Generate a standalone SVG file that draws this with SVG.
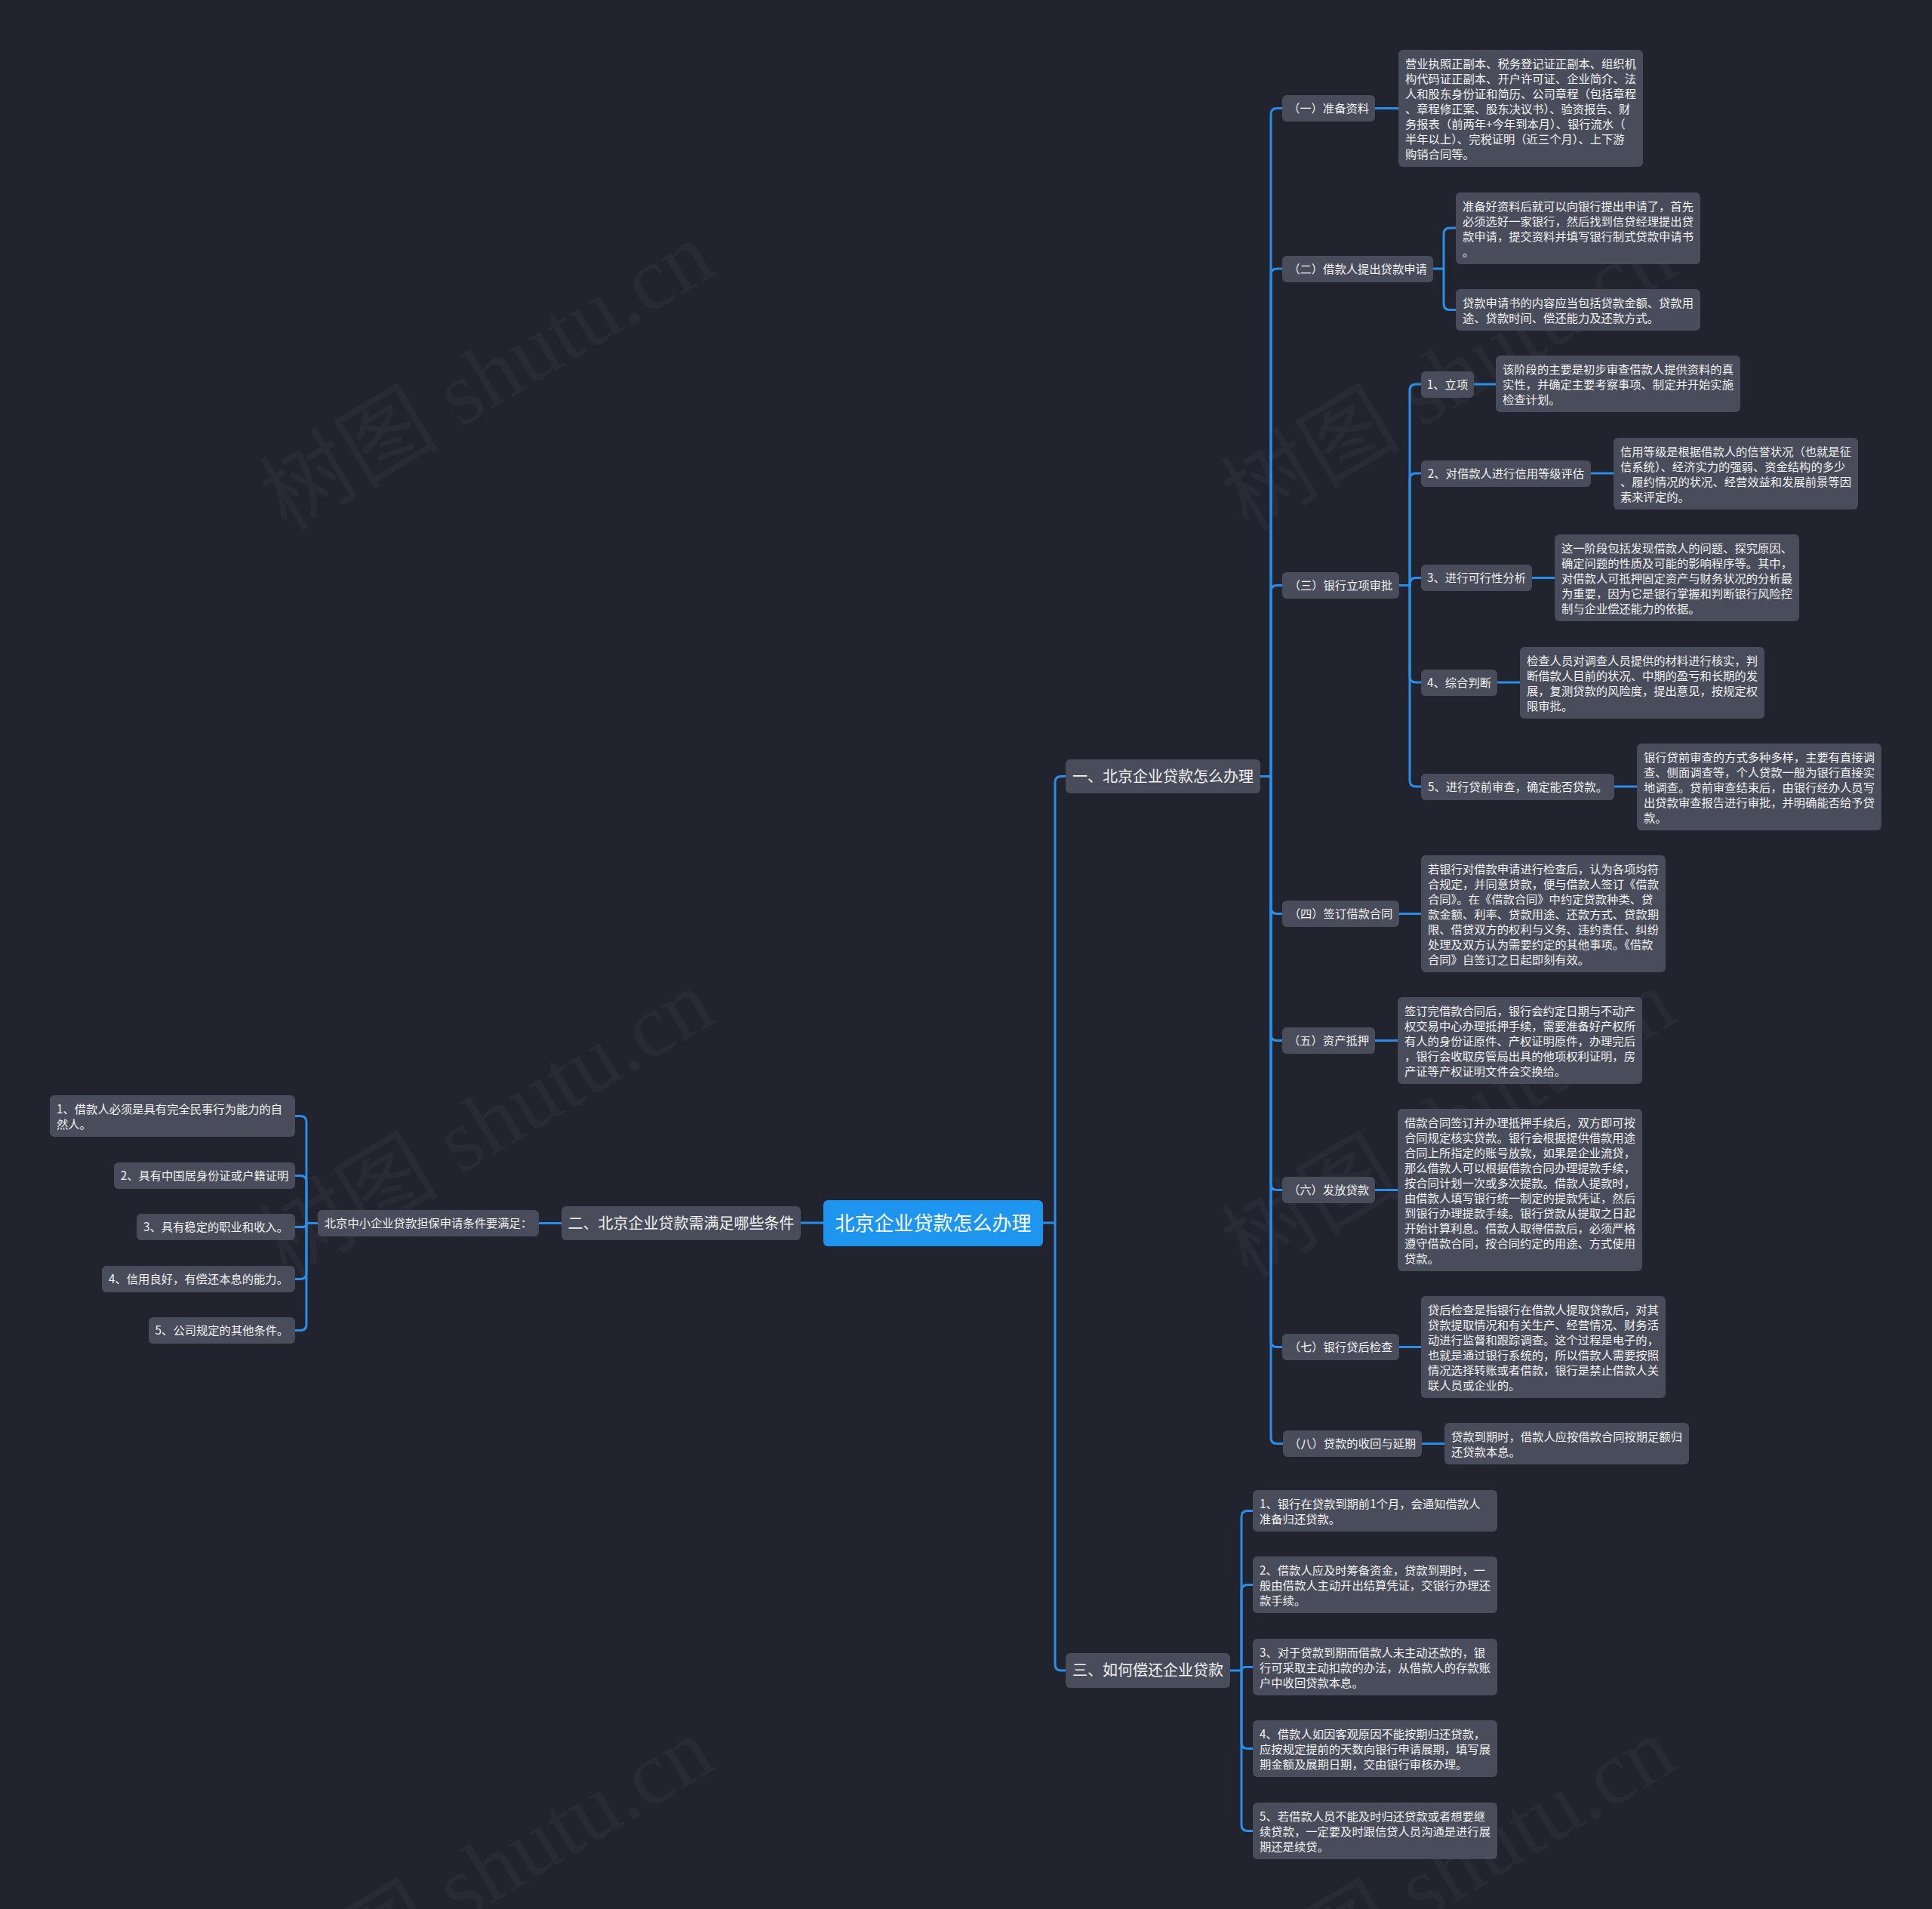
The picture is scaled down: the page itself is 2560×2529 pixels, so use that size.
<svg xmlns="http://www.w3.org/2000/svg" width="2560" height="2529" viewBox="0 0 2560 2529">
<style>
.bg{fill:#21242f}
.wm{font-family:"Liberation Serif","Noto Sans CJK SC",serif;font-size:119px;fill:#ffffff;fill-opacity:0.035}
.n{fill:#494d5b}
.root{fill:#1e96f0}
text{font-family:"Noto Sans CJK SC","Noto Sans",sans-serif;fill:#f2f2f2}
.t{font-size:15.3px}
.m{text-anchor:middle}
.s{font-size:20px;text-anchor:middle}
.r{font-size:26px;text-anchor:middle;fill:#ffffff}
.c{fill:none;stroke:#2a8ee8;stroke-width:3;stroke-linecap:round;stroke-linejoin:round}
</style>
<rect class="bg" x="0" y="0" width="2560" height="2529"/>
<g id="watermarks">
<text class="wm" x="380" y="705" transform="rotate(-31 380 705)">树图 shutu.cn</text>
<text class="wm" x="1654" y="705" transform="rotate(-31 1654 705)">树图 shutu.cn</text>
<text class="wm" x="380" y="1695" transform="rotate(-31 380 1695)">树图 shutu.cn</text>
<text class="wm" x="1654" y="1695" transform="rotate(-31 1654 1695)">树图 shutu.cn</text>
<text class="wm" x="380" y="2685" transform="rotate(-31 380 2685)">树图 shutu.cn</text>
<text class="wm" x="1654" y="2685" transform="rotate(-31 1654 2685)">树图 shutu.cn</text>
</g>
<g id="connectors">
<path class="c" d="M1382,1620 H1398 V1036.5 Q1398,1028.5 1406,1028.5 H1412"/>
<path class="c" d="M1398,1620 V2205 Q1398,2213 1406,2213 H1412"/>
<path class="c" d="M1091,1620 H1061"/>
<path class="c" d="M744,1620.5 H714"/>
<path class="c" d="M421,1620.5 H406 V1486.5 Q406,1478.5 398,1478.5 H391"/>
<path class="c" d="M406,1620.5 V1565.5 Q406,1557.5 398,1557.5 H391"/>
<path class="c" d="M406,1620.5 Q406,1625.5 401,1625.5 H391"/>
<path class="c" d="M406,1620.5 V1686.5 Q406,1694.5 398,1694.5 H391"/>
<path class="c" d="M406,1620.5 V1754.5 Q406,1762.5 398,1762.5 H391"/>
<path class="c" d="M1670,1028.5 H1684 V151.5 Q1684,143.5 1692,143.5 H1699"/>
<path class="c" d="M1684,1028.5 V364 Q1684,356 1692,356 H1699"/>
<path class="c" d="M1684,1028.5 V783.5 Q1684,775.5 1692,775.5 H1699"/>
<path class="c" d="M1684,1028.5 V1202.5 Q1684,1210.5 1692,1210.5 H1699"/>
<path class="c" d="M1684,1028.5 V1370.5 Q1684,1378.5 1692,1378.5 H1699"/>
<path class="c" d="M1684,1028.5 V1568.5 Q1684,1576.5 1692,1576.5 H1699"/>
<path class="c" d="M1684,1028.5 V1776.5 Q1684,1784.5 1692,1784.5 H1699"/>
<path class="c" d="M1684,1028.5 V1904.5 Q1684,1912.5 1692,1912.5 H1700"/>
<path class="c" d="M1822,143.5 H1853"/>
<path class="c" d="M1899,356 H1913 V310 Q1913,302 1921,302 H1929"/>
<path class="c" d="M1913,356 V402.5 Q1913,410.5 1921,410.5 H1929"/>
<path class="c" d="M1854,775.5 H1868 V517 Q1868,509 1876,509 H1883"/>
<path class="c" d="M1868,775.5 V635 Q1868,627 1876,627 H1883"/>
<path class="c" d="M1868,775.5 Q1868,765.5 1876,765.5 H1883"/>
<path class="c" d="M1868,775.5 V896 Q1868,904 1876,904 H1883"/>
<path class="c" d="M1868,775.5 V1034 Q1868,1042 1876,1042 H1883"/>
<path class="c" d="M1953,509 H1982"/>
<path class="c" d="M2108,627 H2138"/>
<path class="c" d="M2030,765.5 H2060"/>
<path class="c" d="M1984,904 H2014"/>
<path class="c" d="M2139,1042 H2169"/>
<path class="c" d="M1854,1210.5 H1883"/>
<path class="c" d="M1822,1378.5 H1852"/>
<path class="c" d="M1822,1576.5 H1852"/>
<path class="c" d="M1854,1784.5 H1883"/>
<path class="c" d="M1884,1912.5 H1914"/>
<path class="c" d="M1630,2213 H1645 V2009.5 Q1645,2001.5 1653,2001.5 H1660"/>
<path class="c" d="M1645,2213 V2107.5 Q1645,2099.5 1653,2099.5 H1660"/>
<path class="c" d="M1645,2213 Q1645,2208.5 1650,2208.5 H1660"/>
<path class="c" d="M1645,2213 V2308.5 Q1645,2316.5 1653,2316.5 H1660"/>
<path class="c" d="M1645,2213 V2417.5 Q1645,2425.5 1653,2425.5 H1660"/>
</g>
<g id="root"><rect class="root" x="1091" y="1590" width="291" height="61" rx="6"/><text class="r" x="1236.5" y="1629.5">北京企业贷款怎么办理</text></g>
<g id="sec1"><rect class="n" x="1412" y="1006" width="258" height="45" rx="6"/><text class="s" x="1541" y="1035.5">一、北京企业贷款怎么办理</text></g>
<g id="sec2"><rect class="n" x="744" y="1598" width="317" height="45" rx="6"/><text class="s" x="902.5" y="1627.5">二、北京企业贷款需满足哪些条件</text></g>
<g id="sec3"><rect class="n" x="1412" y="2190" width="218" height="46" rx="6"/><text class="s" x="1521" y="2220">三、如何偿还企业贷款</text></g>
<g id="cond"><rect class="n" x="421" y="1603" width="293" height="35" rx="6"/><text class="t m" x="567.5" y="1626">北京中小企业贷款担保申请条件要满足：</text></g>
<g id="cond1"><rect class="n" x="66" y="1451" width="325" height="55" rx="6"/><text class="t"><tspan x="75" y="1474.5">1、借款人必须是具有完全民事行为能力的自</tspan><tspan x="75" y="1494.5">然人。</tspan></text></g>
<g id="cond2"><rect class="n" x="151" y="1540" width="240" height="35" rx="6"/><text class="t m" x="271" y="1563">2、具有中国居身份证或户籍证明</text></g>
<g id="cond3"><rect class="n" x="181" y="1608" width="210" height="35" rx="6"/><text class="t m" x="286" y="1631">3、具有稳定的职业和收入。</text></g>
<g id="cond4"><rect class="n" x="135" y="1677" width="256" height="35" rx="6"/><text class="t m" x="263" y="1700">4、信用良好，有偿还本息的能力。</text></g>
<g id="cond5"><rect class="n" x="197" y="1745" width="194" height="35" rx="6"/><text class="t m" x="294" y="1768">5、公司规定的其他条件。</text></g>
<g id="p1"><rect class="n" x="1699" y="126" width="123" height="35" rx="6"/><text class="t m" x="1760.5" y="149">（一）准备资料</text></g>
<g id="p1t"><rect class="n" x="1853" y="66" width="324" height="155" rx="6"/><text class="t"><tspan x="1862" y="89.5">营业执照正副本、税务登记证正副本、组织机</tspan><tspan x="1862" y="109.5">构代码证正副本、开户许可证、企业简介、法</tspan><tspan x="1862" y="129.5">人和股东身份证和简历、公司章程（包括章程</tspan><tspan x="1862" y="149.5">、章程修正案、股东决议书）、验资报告、财</tspan><tspan x="1862" y="169.5">务报表（前两年+今年到本月）、银行流水（</tspan><tspan x="1862" y="189.5">半年以上）、完税证明（近三个月）、上下游</tspan><tspan x="1862" y="209.5">购销合同等。</tspan></text></g>
<g id="p2"><rect class="n" x="1699" y="339" width="200" height="35" rx="6"/><text class="t m" x="1799" y="362">（二）借款人提出贷款申请</text></g>
<g id="p2a"><rect class="n" x="1929" y="255" width="324" height="95" rx="6"/><text class="t"><tspan x="1938" y="278.5">准备好资料后就可以向银行提出申请了，首先</tspan><tspan x="1938" y="298.5">必须选好一家银行，然后找到信贷经理提出贷</tspan><tspan x="1938" y="318.5">款申请，提交资料并填写银行制式贷款申请书</tspan><tspan x="1938" y="338.5">。</tspan></text></g>
<g id="p2b"><rect class="n" x="1929" y="383" width="324" height="55" rx="6"/><text class="t"><tspan x="1938" y="406.5">贷款申请书的内容应当包括贷款金额、贷款用</tspan><tspan x="1938" y="426.5">途、贷款时间、偿还能力及还款方式。</tspan></text></g>
<g id="p3"><rect class="n" x="1699" y="758" width="155" height="35" rx="6"/><text class="t m" x="1776.5" y="781">（三）银行立项审批</text></g>
<g id="p3c1"><rect class="n" x="1883" y="492" width="70" height="35" rx="6"/><text class="t m" x="1918" y="515">1、立项</text></g>
<g id="p3c1t"><rect class="n" x="1982" y="471" width="324" height="75" rx="6"/><text class="t"><tspan x="1991" y="494.5">该阶段的主要是初步审查借款人提供资料的真</tspan><tspan x="1991" y="514.5">实性，并确定主要考察事项、制定并开始实施</tspan><tspan x="1991" y="534.5">检查计划。</tspan></text></g>
<g id="p3c2"><rect class="n" x="1883" y="610" width="225" height="35" rx="6"/><text class="t m" x="1995.5" y="633">2、对借款人进行信用等级评估</text></g>
<g id="p3c2t"><rect class="n" x="2138" y="580" width="324" height="95" rx="6"/><text class="t"><tspan x="2147" y="603.5">信用等级是根据借款人的信誉状况（也就是征</tspan><tspan x="2147" y="623.5">信系统）、经济实力的强弱、资金结构的多少</tspan><tspan x="2147" y="643.5">、履约情况的状况、经营效益和发展前景等因</tspan><tspan x="2147" y="663.5">素来评定的。</tspan></text></g>
<g id="p3c3"><rect class="n" x="1883" y="748" width="147" height="35" rx="6"/><text class="t m" x="1956.5" y="771">3、进行可行性分析</text></g>
<g id="p3c3t"><rect class="n" x="2060" y="708" width="324" height="115" rx="6"/><text class="t"><tspan x="2069" y="731.5">这一阶段包括发现借款人的问题、探究原因、</tspan><tspan x="2069" y="751.5">确定问题的性质及可能的影响程序等。其中，</tspan><tspan x="2069" y="771.5">对借款人可抵押固定资产与财务状况的分析最</tspan><tspan x="2069" y="791.5">为重要，因为它是银行掌握和判断银行风险控</tspan><tspan x="2069" y="811.5">制与企业偿还能力的依据。</tspan></text></g>
<g id="p3c4"><rect class="n" x="1883" y="887" width="101" height="35" rx="6"/><text class="t m" x="1933.5" y="910">4、综合判断</text></g>
<g id="p3c4t"><rect class="n" x="2014" y="857" width="324" height="95" rx="6"/><text class="t"><tspan x="2023" y="880.5">检查人员对调查人员提供的材料进行核实，判</tspan><tspan x="2023" y="900.5">断借款人目前的状况、中期的盈亏和长期的发</tspan><tspan x="2023" y="920.5">展，复测贷款的风险度，提出意见，按规定权</tspan><tspan x="2023" y="940.5">限审批。</tspan></text></g>
<g id="p3c5"><rect class="n" x="1883" y="1025" width="256" height="35" rx="6"/><text class="t m" x="2011" y="1048">5、进行贷前审查，确定能否贷款。</text></g>
<g id="p3c5t"><rect class="n" x="2169" y="985" width="324" height="115" rx="6"/><text class="t"><tspan x="2178" y="1008.5">银行贷前审查的方式多种多样，主要有直接调</tspan><tspan x="2178" y="1028.5">查、侧面调查等，个人贷款一般为银行直接实</tspan><tspan x="2178" y="1048.5">地调查。贷前审查结束后，由银行经办人员写</tspan><tspan x="2178" y="1068.5">出贷款审查报告进行审批，并明确能否给予贷</tspan><tspan x="2178" y="1088.5">款。</tspan></text></g>
<g id="p4"><rect class="n" x="1699" y="1193" width="155" height="35" rx="6"/><text class="t m" x="1776.5" y="1216">（四）签订借款合同</text></g>
<g id="p4t"><rect class="n" x="1883" y="1133" width="324" height="155" rx="6"/><text class="t"><tspan x="1892" y="1156.5">若银行对借款申请进行检查后，认为各项均符</tspan><tspan x="1892" y="1176.5">合规定，并同意贷款，便与借款人签订《借款</tspan><tspan x="1892" y="1196.5">合同》。在《借款合同》中约定贷款种类、贷</tspan><tspan x="1892" y="1216.5">款金额、利率、贷款用途、还款方式、贷款期</tspan><tspan x="1892" y="1236.5">限、借贷双方的权利与义务、违约责任、纠纷</tspan><tspan x="1892" y="1256.5">处理及双方认为需要约定的其他事项。《借款</tspan><tspan x="1892" y="1276.5">合同》自签订之日起即刻有效。</tspan></text></g>
<g id="p5"><rect class="n" x="1699" y="1361" width="123" height="35" rx="6"/><text class="t m" x="1760.5" y="1384">（五）资产抵押</text></g>
<g id="p5t"><rect class="n" x="1852" y="1321" width="324" height="115" rx="6"/><text class="t"><tspan x="1861" y="1344.5">签订完借款合同后，银行会约定日期与不动产</tspan><tspan x="1861" y="1364.5">权交易中心办理抵押手续，需要准备好产权所</tspan><tspan x="1861" y="1384.5">有人的身份证原件、产权证明原件，办理完后</tspan><tspan x="1861" y="1404.5">，银行会收取房管局出具的他项权利证明，房</tspan><tspan x="1861" y="1424.5">产证等产权证明文件会交换给。</tspan></text></g>
<g id="p6"><rect class="n" x="1699" y="1559" width="123" height="35" rx="6"/><text class="t m" x="1760.5" y="1582">（六）发放贷款</text></g>
<g id="p6t"><rect class="n" x="1852" y="1469" width="324" height="215" rx="6"/><text class="t"><tspan x="1861" y="1492.5">借款合同签订并办理抵押手续后，双方即可按</tspan><tspan x="1861" y="1512.5">合同规定核实贷款。银行会根据提供借款用途</tspan><tspan x="1861" y="1532.5">合同上所指定的账号放款，如果是企业流贷，</tspan><tspan x="1861" y="1552.5">那么借款人可以根据借款合同办理提款手续，</tspan><tspan x="1861" y="1572.5">按合同计划一次或多次提款。借款人提款时，</tspan><tspan x="1861" y="1592.5">由借款人填写银行统一制定的提款凭证，然后</tspan><tspan x="1861" y="1612.5">到银行办理提款手续。银行贷款从提取之日起</tspan><tspan x="1861" y="1632.5">开始计算利息。借款人取得借款后，必须严格</tspan><tspan x="1861" y="1652.5">遵守借款合同，按合同约定的用途、方式使用</tspan><tspan x="1861" y="1672.5">贷款。</tspan></text></g>
<g id="p7"><rect class="n" x="1699" y="1767" width="155" height="35" rx="6"/><text class="t m" x="1776.5" y="1790">（七）银行贷后检查</text></g>
<g id="p7t"><rect class="n" x="1883" y="1717" width="324" height="135" rx="6"/><text class="t"><tspan x="1892" y="1740.5">贷后检查是指银行在借款人提取贷款后，对其</tspan><tspan x="1892" y="1760.5">贷款提取情况和有关生产、经营情况、财务活</tspan><tspan x="1892" y="1780.5">动进行监督和跟踪调查。这个过程是电子的，</tspan><tspan x="1892" y="1800.5">也就是通过银行系统的，所以借款人需要按照</tspan><tspan x="1892" y="1820.5">情况选择转账或者借款，银行是禁止借款人关</tspan><tspan x="1892" y="1840.5">联人员或企业的。</tspan></text></g>
<g id="p8"><rect class="n" x="1700" y="1895" width="184" height="35" rx="6"/><text class="t m" x="1792" y="1918">（八）贷款的收回与延期</text></g>
<g id="p8t"><rect class="n" x="1914" y="1885" width="324" height="55" rx="6"/><text class="t"><tspan x="1923" y="1908.5">贷款到期时，借款人应按借款合同按期足额归</tspan><tspan x="1923" y="1928.5">还贷款本息。</tspan></text></g>
<g id="r1"><rect class="n" x="1660" y="1974" width="324" height="55" rx="6"/><text class="t"><tspan x="1669" y="1997.5">1、银行在贷款到期前1个月，会通知借款人</tspan><tspan x="1669" y="2017.5">准备归还贷款。</tspan></text></g>
<g id="r2"><rect class="n" x="1660" y="2062" width="324" height="75" rx="6"/><text class="t"><tspan x="1669" y="2085.5">2、借款人应及时筹备资金，贷款到期时，一</tspan><tspan x="1669" y="2105.5">般由借款人主动开出结算凭证，交银行办理还</tspan><tspan x="1669" y="2125.5">款手续。</tspan></text></g>
<g id="r3"><rect class="n" x="1660" y="2171" width="324" height="75" rx="6"/><text class="t"><tspan x="1669" y="2194.5">3、对于贷款到期而借款人未主动还款的，银</tspan><tspan x="1669" y="2214.5">行可采取主动扣款的办法，从借款人的存款账</tspan><tspan x="1669" y="2234.5">户中收回贷款本息。</tspan></text></g>
<g id="r4"><rect class="n" x="1660" y="2279" width="324" height="75" rx="6"/><text class="t"><tspan x="1669" y="2302.5">4、借款人如因客观原因不能按期归还贷款，</tspan><tspan x="1669" y="2322.5">应按规定提前的天数向银行申请展期，填写展</tspan><tspan x="1669" y="2342.5">期金额及展期日期，交由银行审核办理。</tspan></text></g>
<g id="r5"><rect class="n" x="1660" y="2388" width="324" height="75" rx="6"/><text class="t"><tspan x="1669" y="2411.5">5、若借款人员不能及时归还贷款或者想要继</tspan><tspan x="1669" y="2431.5">续贷款，一定要及时跟信贷人员沟通是进行展</tspan><tspan x="1669" y="2451.5">期还是续贷。</tspan></text></g>
</svg>
